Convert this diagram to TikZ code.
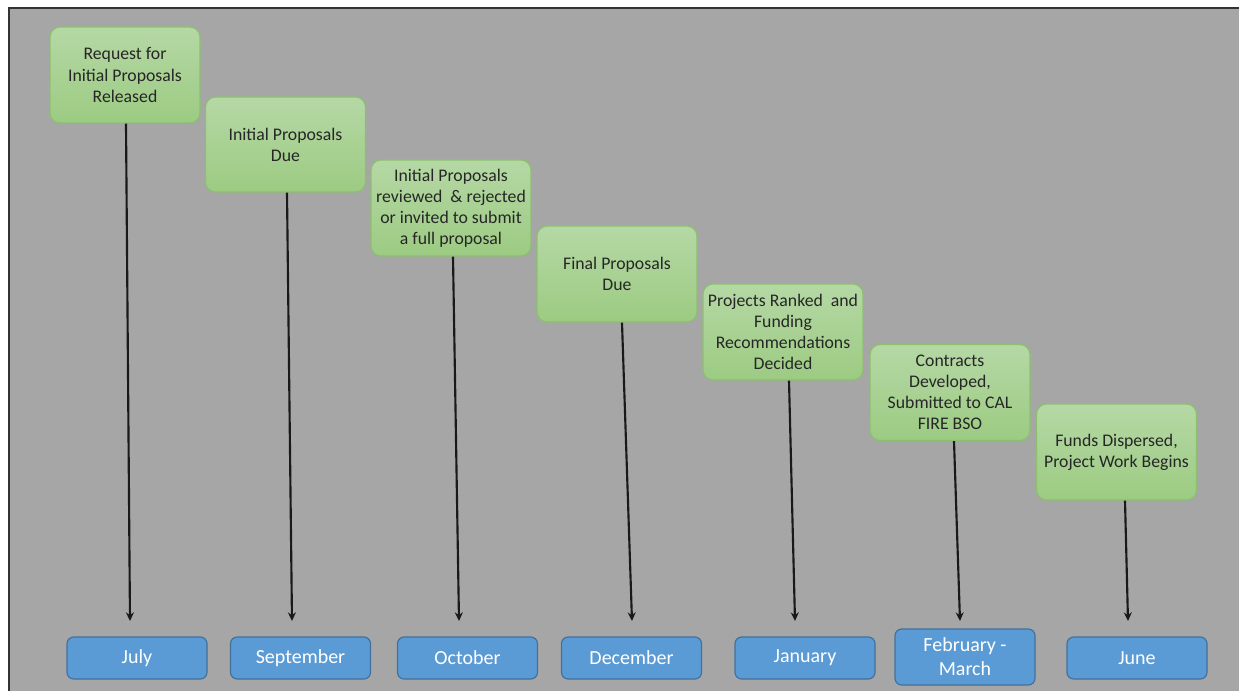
\documentclass[tikz,border=0pt]{standalone}
\usepackage{fontspec}
\setmainfont{Carlito}
\usetikzlibrary{arrows.meta,calc}
\definecolor{bggray}{HTML}{A6A6A6}
\definecolor{gtop}{HTML}{B5D8A5}
\definecolor{gbot}{HTML}{9CCB82}
\definecolor{gline}{HTML}{8CC070}
\definecolor{bfill}{HTML}{5B9BD5}
\definecolor{bline}{HTML}{41719C}
\definecolor{txt}{HTML}{262626}
\tikzset{
  event/.style={draw=gline, line width=0.9pt, rounded corners=7.5pt, top color=gtop, bottom color=gbot,
    minimum width=120pt, minimum height=72pt, inner sep=0pt, align=center, text=txt,
    font=\fontsize{13.3pt}{15.8pt}\selectfont},
  month/.style={draw=bline, line width=0.9pt, rounded corners=5pt, fill=bfill,
    minimum width=105pt, minimum height=31.5pt, inner sep=0pt, align=center, text=white,
    font=\fontsize{15pt}{18pt}\selectfont},
  arr/.style={line width=1.6pt, black!90, -{Stealth[length=6.5pt,width=6pt]}},
}
\begin{document}
\begin{tikzpicture}[x=0.75pt,y=-0.75pt]
\useasboundingbox (0,0) rectangle (1239,691);
\fill[white] (0,0) rectangle (1239,691);
\fill[bggray] (9,8) rectangle (1239,691);
\draw[line width=1.6pt, black!80] (9,691) -- (9,8) -- (1239,8);

\node[event, minimum width=112.5pt] (g1) at (125,75) {Request for\\Initial Proposals\\Released};
\node[event, minimum height=71.25pt] (g2) at (285.5,144.5) {Initial Proposals\\Due};
\node[event] (g3) at (451,208) {Initial Proposals\\reviewed \ \& rejected\\or invited to submit\\a full proposal};
\node[event] (g4) at (617,274) {Final Proposals\\Due};
\node[event] (g5) at (783,332) {Projects Ranked \ and\\Funding\\Recommendations\\Decided};
\node[event] (g6) at (950,392.5) {Contracts\\Developed,\\Submitted to CAL\\FIRE BSO};
\node[event] (g7) at (1116.5,452) {Funds Dispersed,\\Project Work Begins};

\node[month] (m1) at (137,658) {July};
\node[month] (m2) at (300.5,658) {September};
\node[month] (m3) at (467.5,658) {October};
\node[month] (m4) at (631.5,658) {December};
\node[month] (m5) at (805,658) {January};
\node[month, minimum height=42pt] (m6) at (965,657) {February -\\March};
\node[month] (m7) at (1137,658) {June};

\coordinate (t1) at (130,621);
\coordinate (t2) at (292,621);
\coordinate (t3) at (459,621);
\coordinate (t4) at (632,621);
\coordinate (t5) at (795,621);
\coordinate (t6) at (960,621);
\coordinate (t7) at (1128,621);

\draw[arr] ($(g1.south)+(1,0)$) -- (t1);
\draw[arr] ($(g2.south)+(1.5,0)$) -- (t2);
\draw[arr] ($(g3.south)+(2,0)$) -- (t3);
\draw[arr] ($(g4.south)+(5,0)$) -- (t4);
\draw[arr] ($(g5.south)+(6,0)$) -- (t5);
\draw[arr] ($(g6.south)+(4,0)$) -- (t6);
\draw[arr] ($(g7.south)+(8.5,0)$) -- (t7);
\end{tikzpicture}
\end{document}
